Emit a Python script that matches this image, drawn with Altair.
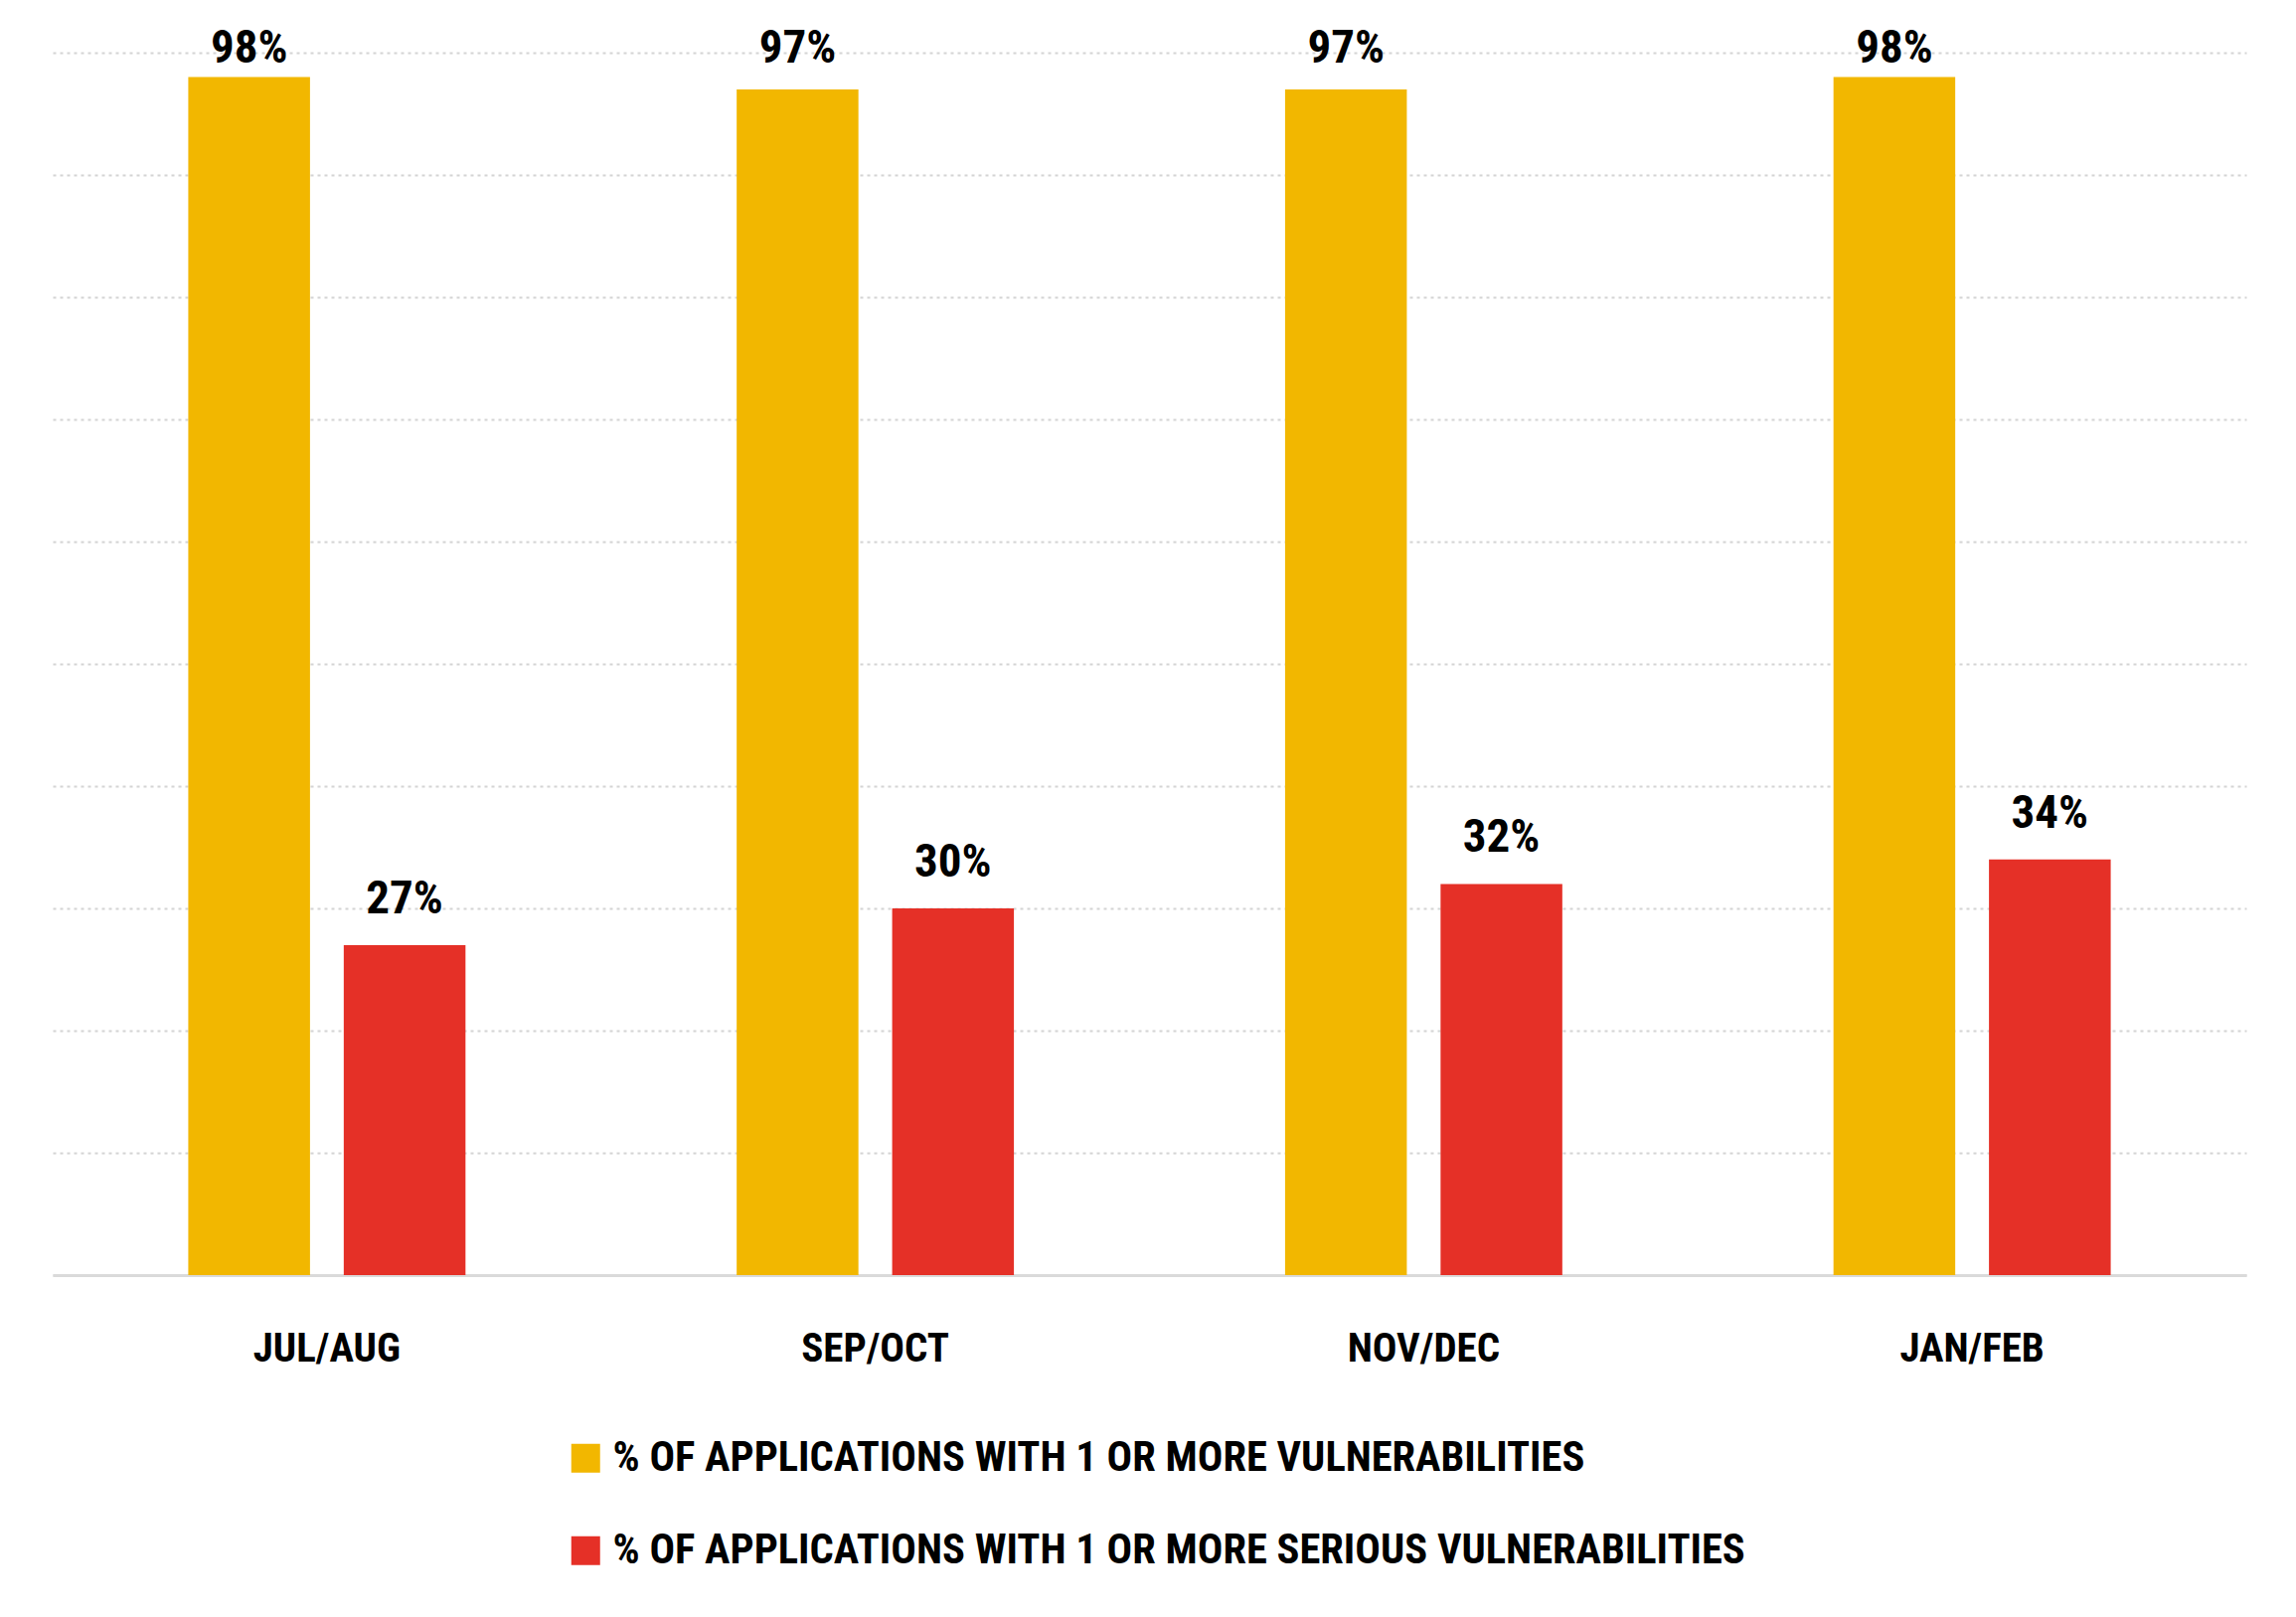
import altair as alt
import pandas as pd

periods = ["JUL/AUG", "SEP/OCT", "NOV/DEC", "JAN/FEB"]
series = [
    "% OF APPLICATIONS WITH 1 OR MORE VULNERABILITIES",
    "% OF APPLICATIONS WITH 1 OR MORE SERIOUS VULNERABILITIES",
]
any_vuln = [98, 97, 97, 98]
serious_vuln = [27, 30, 32, 34]
colors = ["#F2B700", "#E53027"]

rows = []
for p, a, s in zip(periods, any_vuln, serious_vuln):
    rows.append({"period": p, "series": series[0], "value": a})
    rows.append({"period": p, "series": series[1], "value": s})
df = pd.DataFrame(rows)

FONT = "Liberation Sans Narrow, Roboto Condensed, DejaVu Sans Condensed, Arial Narrow, sans-serif"

x_enc = alt.X(
    "period:N",
    sort=periods,
    scale=alt.Scale(paddingInner=0, paddingOuter=0),
    axis=alt.Axis(
        title=None,
        labelAngle=0,
        labelFont=FONT,
        labelFontSize=41,
        labelFontWeight="bold",
        labelColor="#000000",
        labelBaseline="middle",
        labelPadding=74,
        ticks=False,
        grid=False,
        domainColor="#dadada",
        domainWidth=3,
    ),
)
xoff_enc = alt.XOffset(
    "series:N",
    sort=series,
    scale=alt.Scale(paddingInner=0.217, paddingOuter=0.872),
)
y_enc = alt.Y(
    "value:Q",
    scale=alt.Scale(domain=[0, 100]),
    axis=alt.Axis(
        title=None,
        labels=False,
        ticks=False,
        domain=False,
        grid=True,
        values=list(range(0, 101, 10)),
        gridColor="#d4d4d4",
        gridDash=[3, 4],
        gridWidth=2,
    ),
)

bars = alt.Chart(df).mark_bar().encode(
    x=x_enc,
    xOffset=xoff_enc,
    y=y_enc,
    color=alt.Color(
        "series:N",
        sort=series,
        scale=alt.Scale(domain=series, range=colors),
        legend=alt.Legend(
            title=None,
            orient="none",
            legendX=515,
            legendY=1393,
            direction="vertical",
            symbolType="square",
            symbolSize=841,
            symbolStrokeWidth=0,
            labelFont=FONT,
            labelFontSize=42.5,
            labelFontWeight="bold",
            labelColor="#000000",
            labelOffset=6,
            labelLimit=0,
            rowPadding=50,
            padding=0,
        ),
    ),
)

labels = (
    alt.Chart(df)
    .transform_calculate(
        label="datum.value + '%'",
        label_y="min(datum.value + 2.6, 99.2)",
    )
    .mark_text(
        baseline="alphabetic",
        font=FONT,
        fontSize=47,
        fontWeight="bold",
        color="#000000",
    )
    .encode(
        x=alt.X("period:N", sort=periods),
        xOffset=alt.XOffset("series:N", sort=series),
        y=alt.Y("label_y:Q"),
        text="label:N",
    )
)

chart = (
    alt.layer(bars, labels)
    .properties(
        width=2207,
        height=1230,
        padding={"left": 53, "top": 53, "right": 50, "bottom": 344},
        autosize=alt.AutoSizeParams(type="none"),
        background="#ffffff",
    )
    .configure_view(stroke=None)
)

chart.save("out.html", embed_options={"renderer": "svg", "actions": False})
